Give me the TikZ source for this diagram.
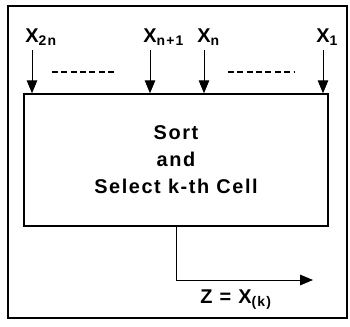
\documentclass[tikz,border=0pt]{standalone}
\usepackage{fontspec}
\setmainfont{Liberation Sans}[LetterSpace=8]
\usetikzlibrary{arrows, arrows.meta, positioning}
\tikzstyle{cellbox} = [rectangle, draw=black, line width=1.3pt, minimum width=9.12cm, minimum height=3.96cm,
                       text centered, align=center, font=\fontsize{17}{23}\selectfont\bfseries]
\tikzstyle{inlabel} = [inner sep=1pt, anchor=south west, font=\fontsize{17}{20}\selectfont\bfseries]
\tikzstyle{arrow}   = [thick,-{Triangle[length=11pt,width=9pt]}]

\begin{document}
\begin{tikzpicture}[x=0.03cm, y=-0.03cm]
  \useasboundingbox (0,0) rectangle (350,327);
  \draw [line width=1pt] (8,6) rectangle (347,318);
  \node (cell) [cellbox] at (176,160) {Sort\\and\\Select k-th Cell};
  % inputs
  \coordinate (in2n) at (32,50);
  \coordinate (inn1) at (150,50);
  \coordinate (inn) at (204,50);
  \coordinate (in1) at (323,50);
  \node (x2n) [inlabel] at (24,47) {X\textsubscript{2n}};
  \node (xn1) [inlabel] at (142,47) {X\textsubscript{n+1}};
  \node (xn) [inlabel] at (196,47) {X\textsubscript{n}};
  \node (x1) [inlabel] at (315,47) {X\textsubscript{1}};
  \draw [arrow] (in2n) -- (in2n |- cell.north);
  \draw [arrow] (inn1) -- (inn1 |- cell.north);
  \draw [arrow] (inn) -- (inn |- cell.north);
  \draw [arrow] (in1) -- (in1 |- cell.north);
  \draw [very thick, dash pattern=on 5pt off 3pt] (52,72) -- (117,72);
  \draw [very thick, dash pattern=on 5pt off 3pt] (228,72) -- (295,72);
  % output
  \coordinate (zout) at (313,280);
  \draw [arrow] (cell.south) |- (zout);
  \node (z) [font=\fontsize{17}{20}\selectfont\bfseries] at (236,300) {Z = X\textsubscript{(k)}};
\end{tikzpicture}
\end{document}
